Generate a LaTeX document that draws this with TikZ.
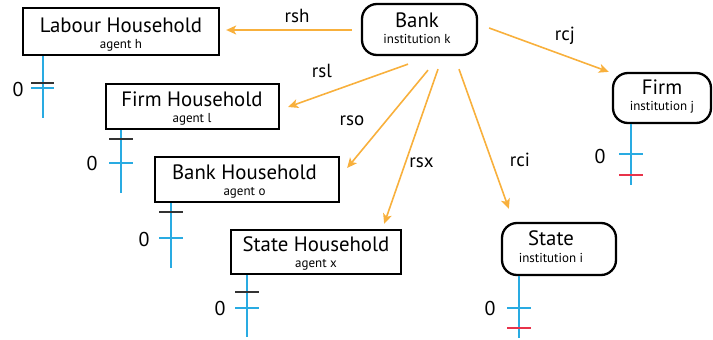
\documentclass[tikz,border=0pt]{standalone}
\usepackage{fontspec}
\setmainfont{PT Sans}
\usetikzlibrary{arrows.meta,calc}

\definecolor{flowor}{HTML}{F8B03C}
\definecolor{stemblue}{HTML}{29ABE2}
\definecolor{tickred}{HTML}{E8334A}
\definecolor{tickdark}{HTML}{333333}

\tikzset{
  agentbox/.style={draw=black, line width=2.3pt, fill=white, inner sep=0pt},
  instbox/.style={agentbox, rounded corners=15pt},
  ttl/.style={anchor=base, inner sep=0pt, font=\fontsize{20.8}{21}\selectfont},
  sub/.style={anchor=base, inner sep=0pt, font=\fontsize{13}{14}\selectfont},
  flowlbl/.style={anchor=base, inner sep=0pt, font=\fontsize{19}{20}\selectfont},
  zero/.style={anchor=center, inner sep=0pt, font=\fontsize{20}{21}\selectfont},
  flow/.style={draw=flowor, line width=1.6pt,
    -{Stealth[length=10pt,width=9pt,inset=2.5pt]}},
  stem/.style={draw=stemblue, line width=1.5pt},
  tickb/.style={draw=stemblue, line width=1.5pt},
  tickk/.style={draw=tickdark, line width=1.5pt},
  tickr/.style={draw=tickred, line width=1.5pt},
}

\begin{document}
\begin{tikzpicture}[x=1pt, y=-1pt]
\useasboundingbox (0,0) rectangle (713,340);

% ---- sectors: households (square) and institutions (rounded)
\node[agentbox, minimum width=196pt, minimum height=47pt] (lh) at (121,31.5) {};
\node[ttl] (lh-t) at (121,32.5) {Labour Household};
\node[sub] (lh-s) at (121,48.5) {agent h};

\node[agentbox, minimum width=173pt, minimum height=45pt] (fh) at (192.5,106.5) {};
\node[ttl] (fh-t) at (192,106.5) {Firm Household};
\node[sub] (fh-s) at (192,122.5) {agent l};

\node[agentbox, minimum width=184pt, minimum height=45pt] (bh) at (247,179.5) {};
\node[ttl] (bh-t) at (244.5,179.5) {Bank Household};
\node[sub] (bh-s) at (244.5,195) {agent o};

\node[agentbox, minimum width=170pt, minimum height=44pt] (sh) at (316,252) {};
\node[ttl] (sh-t) at (316,251.5) {State Household};
\node[sub] (sh-s) at (316,267.5) {agent x};

\node[instbox, minimum width=115pt, minimum height=51pt] (bank) at (419.5,29.5) {};
\node[ttl] (bank-t) at (417,27.5) {Bank};
\node[sub] (bank-s) at (417,43.5) {institution k};

\node[instbox, minimum width=114pt, minimum height=52pt] (st) at (559,249) {};
\node[ttl] (st-t) at (551,245.5) {State};
\node[sub] (st-s) at (551,262.5) {institution i};

\node[instbox, minimum width=98pt, minimum height=50pt] (fm) at (662,98) {};
\node[ttl] (fm-t) at (662,94.5) {Firm};
\node[sub] (fm-s) at (662,110.5) {institution j};

% ---- interest flows out of the bank
\draw[flow] ($(bank.west)+(-9,0.5)$) -- ($(bank.west -| lh.east)+(6,0.5)$);
\draw[flow] ($(bank.east)+(11,-1.5)$) -- ($(fm.north west)+(-3,0)$);
\draw[flow] ($(bank.south)+(-11.5,8)$) -- ($(fh.east)+(8,0.5)$);
\draw[flow] ($(bank.south)+(8.5,14)$) -- ($(bh.east)+(7,-11.5)$);
\draw[flow] ($(bank.south)+(18.5,13)$) -- ($(sh.north east)+(-18,-5)$);
\draw[flow] ($(bank.south)+(39.5,13)$) -- ($(st.north west)+(8,-13)$);

\node[flowlbl] (l-sh) at (297,22) {rsh};
\node[flowlbl] (l-cj) at (565,41) {rcj};
\node[flowlbl] (l-sl) at (322,77) {rsl};
\node[flowlbl] (l-so) at (352,125) {rso};
\node[flowlbl] (l-sx) at (421.5,167) {rsx};
\node[flowlbl] (l-ci) at (520,166) {rci};

% ---- balance axes below each sector
\coordinate (ax-h) at (43,118);
\coordinate (ax-l) at (121,193);
\coordinate (ax-o) at (171,268);
\coordinate (ax-x) at (247,337);
\coordinate (ax-i) at (519,338);
\coordinate (ax-j) at (631,185);

\draw[stem] (lh.south -| ax-h) -- (ax-h);
\draw[stem] (fh.south -| ax-l) -- (ax-l);
\draw[stem] (bh.south -| ax-o) -- (ax-o);
\draw[stem] (sh.south -| ax-x) -- (ax-x);
\draw[stem] (st.south -| ax-i) -- (ax-i);
\draw[stem] (fm.south -| ax-j) -- (ax-j);

% ticks: dark = stock level, blue = zero line, red = debt level
\draw[tickk] (31,83) -- (54,83);
\draw[tickb] (31,88) -- (54,88);
\draw[tickk] (109,139) -- (133,139);
\draw[tickb] (109,163) -- (133,163);
\draw[tickk] (159,212) -- (183,212);
\draw[tickb] (159,238) -- (183,238);
\draw[tickk] (235,292) -- (259,292);
\draw[tickb] (235,308) -- (259,308);
\draw[tickb] (507,308) -- (531,308);
\draw[tickr] (507,328) -- (531,328);
\draw[tickb] (619,154) -- (643,154);
\draw[tickr] (619,175) -- (643,175);

\node[zero] (z-h) at (18,89) {0};
\node[zero] (z-l) at (92,163.5) {0};
\node[zero] (z-o) at (144,239) {0};
\node[zero] (z-x) at (220,308) {0};
\node[zero] (z-i) at (490,308) {0};
\node[zero] (z-j) at (600,156) {0};
\end{tikzpicture}
\end{document}
